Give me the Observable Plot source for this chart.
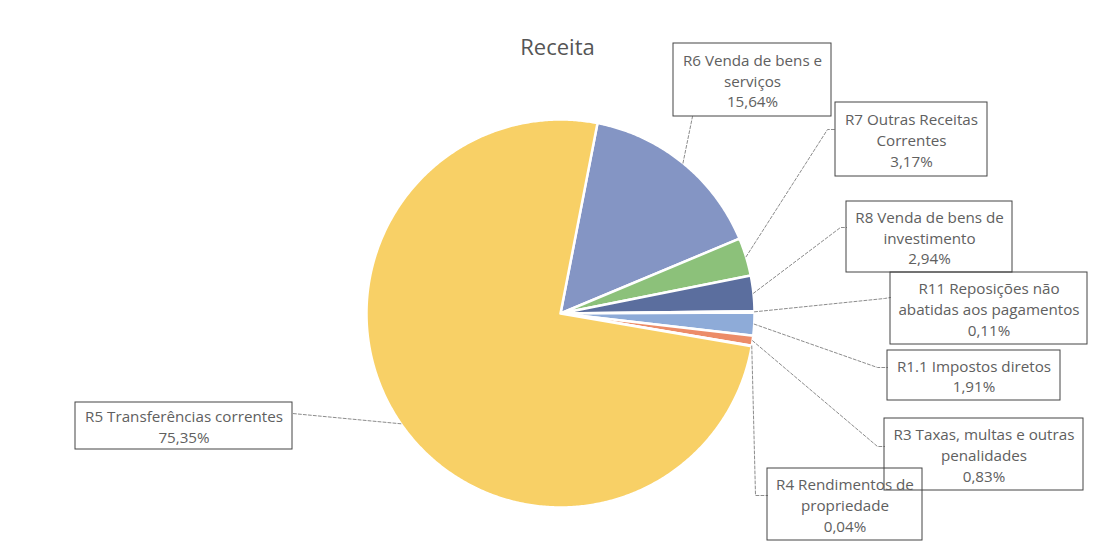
<!DOCTYPE html>
<html>
<head>
<meta charset="utf-8">
<script src="https://cdn.jsdelivr.net/npm/d3@7"></script>
<script src="https://cdn.jsdelivr.net/npm/@observablehq/plot@0.6"></script>
<style>
  html, body { margin: 0; padding: 0; background: #fff; }
  #chart svg { display: block; }
</style>
</head>
<body>
<div id="chart"></div>
<script>
// ---- data (clockwise order starting at the top) ----
const codes = ["R6", "R7", "R8", "R11", "R1.1", "R3", "R4", "R5"];
const names = [
  "Venda de bens e serviços",
  "Outras Receitas Correntes",
  "Venda de bens de investimento",
  "Reposições não abatidas aos pagamentos",
  "Impostos diretos",
  "Taxas, multas e outras penalidades",
  "Rendimentos de propriedade",
  "Transferências correntes"
];
const values = [15.64, 3.17, 2.94, 0.11, 1.91, 0.83, 0.04, 75.35];
// wrapped label text (as in the chart)
const labelText = [
  "R6 Venda de bens e\nserviços",
  "R7 Outras Receitas\nCorrentes",
  "R8 Venda de bens de\ninvestimento",
  "R11 Reposições não\nabatidas aos pagamentos",
  "R1.1 Impostos diretos",
  "R3 Taxas, multas e outras\npenalidades",
  "R4 Rendimentos de\npropriedade",
  "R5 Transferências correntes"
];
const title = "Receita";

// ---- styles ----
const colors = ["#8495C4", "#8CC17A", "#5B6E9E", "#9E6B4A", "#8EABD8", "#EC8C68", "#B5B5B5", "#F8D066"];

// ---- layout ----
const W = 1097, H = 555;
const cx = 560, cy = 313, R = 194, startDeg = 11;
// label boxes [x1, x2, y1, y2]
const boxes = [
  [673, 831, 43, 116],
  [835, 987, 102, 176],
  [846, 1012, 201, 272],
  [890, 1087, 272, 344],
  [887, 1060, 350, 400],
  [884, 1083, 418, 490],
  [767, 922, 468, 540],
  [75, 292, 402, 449]
];
// leader line: elbow point and anchor point on the box
const elbows = [
  [692, 116], [827, 129], [840, 227], [884, 298],
  [877, 367], [877, 446], [755, 495], [292, 413]
];
const anchors = [
  [692, 116], [835, 129], [846, 227], [890, 297],
  [887, 367], [884, 446], [767, 495], [292, 413]
];

// ---- build geometry from values ----
const total = d3.sum(values);
let acc = 0;
const slices = values.map((v, i) => {
  const a0 = startDeg + acc / total * 360;
  acc += v;
  const a1 = startDeg + acc / total * 360;
  return {code: codes[i], name: names[i], value: v, a0, a1, mid: (a0 + a1) / 2};
});
const rad = d => d * Math.PI / 180;
const px = (a, r) => cx + r * Math.sin(rad(a));
const py = (a, r) => cy - r * Math.cos(rad(a));

const slicePts = [];
for (const s of slices) {
  slicePts.push({code: s.code, x: cx, y: cy});
  const n = Math.max(2, Math.ceil((s.a1 - s.a0) / 0.5));
  for (let k = 0; k <= n; k++) {
    const a = s.a0 + (s.a1 - s.a0) * k / n;
    slicePts.push({code: s.code, x: px(a, R), y: py(a, R)});
  }
}

const leaderPts = [];
slices.forEach((s, i) => {
  leaderPts.push({code: s.code, x: px(s.mid, R), y: py(s.mid, R)});
  leaderPts.push({code: s.code, x: elbows[i][0], y: elbows[i][1]});
  leaderPts.push({code: s.code, x: anchors[i][0], y: anchors[i][1]});
});

const fmt = v => v.toFixed(2).replace(".", ",") + "%";
const labels = slices.map((s, i) => ({
  code: s.code,
  text: labelText[i] + "\n" + fmt(s.value),
  x1: boxes[i][0], x2: boxes[i][1], y1: boxes[i][2], y2: boxes[i][3],
  cxl: (boxes[i][0] + boxes[i][1]) / 2,
  cyl: (boxes[i][2] + boxes[i][3]) / 2
}));

const chart = Plot.plot({
  width: W,
  height: H,
  margin: 0,
  style: {fontFamily: "'Open Sans', sans-serif", background: "#fff"},
  x: {domain: [0, W], range: [0, W], axis: null},
  y: {domain: [0, H], range: [0, H], axis: null},
  color: {domain: codes, range: colors},
  marks: [
    Plot.line(slicePts, {
      x: "x", y: "y", z: "code", fill: "code",
      stroke: "white", strokeWidth: 2.5, curve: "linear-closed", strokeLinejoin: "round"
    }),
    Plot.line(leaderPts, {
      x: "x", y: "y", z: "code", stroke: "#8c8c8c", strokeWidth: 1,
      strokeDasharray: "3,2", curve: "linear"
    }),
    Plot.rect(labels, {
      x1: "x1", x2: "x2", y1: "y1", y2: "y2",
      fill: "none", stroke: "#444", strokeWidth: 1
    }),
    Plot.text(labels, {
      x: "cxl", y: "cyl", text: "text", fill: "#606060",
      fontSize: 15.2, lineHeight: 1.36, textAnchor: "middle"
    }),
    Plot.text([title], {
      x: () => 557, y: () => 47, text: d => d, fill: "#555",
      fontSize: 22, textAnchor: "middle"
    })
  ]
});
document.getElementById("chart").appendChild(chart);
</script>
</body>
</html>
